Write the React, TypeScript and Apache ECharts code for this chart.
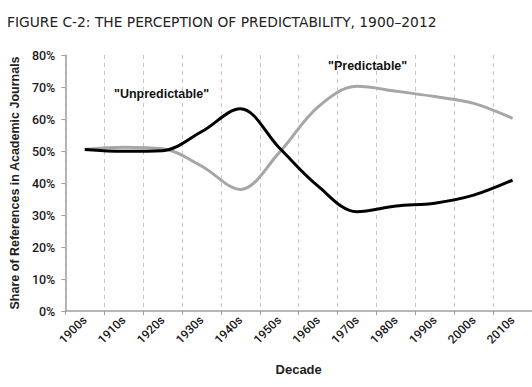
import React, { useEffect, useRef } from "react";
import * as echarts from "echarts";

const decades = ["1900s", "1910s", "1920s", "1930s", "1940s", "1950s", "1960s", "1970s", "1980s", "1990s", "2000s", "2010s"];
const unpredictable = [50.5, 49.9, 50.1, 56.0, 63.2, 51.0, 39.0, 31.0, 32.8, 33.7, 36.2, 40.9];
const predictable = [50.5, 51.2, 50.7, 45.3, 38.0, 49.5, 63.8, 70.2, 68.7, 67.0, 64.9, 60.2];

const labelFont = "'Liberation Sans', Arial, sans-serif";
const tickFont = "Roboto, 'Liberation Sans', sans-serif";

export default function App() {
  const ref = useRef<HTMLDivElement>(null);
  useEffect(() => {
    if (!ref.current) return;
    const chart = echarts.init(ref.current, null, { renderer: "svg" });
    chart.setOption({
      animation: false,
      backgroundColor: "#ffffff",
      title: {
        text: "FIGURE C-2: THE PERCEPTION OF PREDICTABILITY, 1900–2012",
        left: 2,
        top: 10,
        textStyle: { fontFamily: "'DejaVu Sans', Verdana, sans-serif", fontSize: 13.8, fontWeight: "normal", color: "#222" },
      },
      grid: { left: 61, right: 0, top: 55, bottom: 76 },
      xAxis: {
        type: "category",
        data: decades,
        boundaryGap: true,
        name: "Decade",
        nameLocation: "middle",
        nameGap: 52,
        nameTextStyle: { fontFamily: labelFont, fontWeight: "bold", fontSize: 13, color: "#222" },
        axisLine: { lineStyle: { color: "#a0a0a0", width: 1.5 } },
        axisTick: { show: true, length: 4, lineStyle: { color: "#a0a0a0" } },
        splitLine: { show: true, lineStyle: { color: "#c8c8c8", type: [4, 4], width: 1 } },
        axisLabel: { rotate: 45, margin: 7, fontFamily: tickFont, fontWeight: 500, fontSize: 12, color: "#1a1a1a" },
      },
      yAxis: {
        type: "value",
        min: 0,
        max: 80,
        interval: 10,
        name: "Share of References in Academic Journals",
        nameLocation: "middle",
        nameGap: 42,
        nameTextStyle: { fontFamily: labelFont, fontWeight: "bold", fontSize: 12.5, color: "#222" },
        axisLine: { show: true, lineStyle: { color: "#a0a0a0", width: 1.5 } },
        axisTick: { show: true, length: 4, lineStyle: { color: "#a0a0a0" } },
        splitLine: { show: false },
        axisLabel: { formatter: "{value}%", margin: 10, fontFamily: tickFont, fontWeight: 500, fontSize: 12.5, color: "#1a1a1a" },
      },
      series: [
        {
          name: "Predictable",
          type: "line",
          data: predictable,
          smooth: 0.35,
          symbol: "none",
          lineStyle: { color: "#a6a6a6", width: 3 },
        },
        {
          name: "Unpredictable",
          type: "line",
          data: unpredictable,
          smooth: 0.35,
          symbol: "none",
          lineStyle: { color: "#000000", width: 3 },
        },
      ],
      graphic: [
        {
          type: "text",
          left: 114,
          top: 87,
          style: { text: '"Unpredictable"', fontFamily: labelFont, fontWeight: "bold", fontSize: 12.5, fill: "#111" },
        },
        {
          type: "text",
          left: 328,
          top: 59,
          style: { text: '"Predictable"', fontFamily: labelFont, fontWeight: "bold", fontSize: 12.5, fill: "#111" },
        },
      ],
    });
    return () => chart.dispose();
  }, []);
  return <div ref={ref} style={{ position: "absolute", left: 0, top: 0, width: 532, height: 387 }} />;
}
